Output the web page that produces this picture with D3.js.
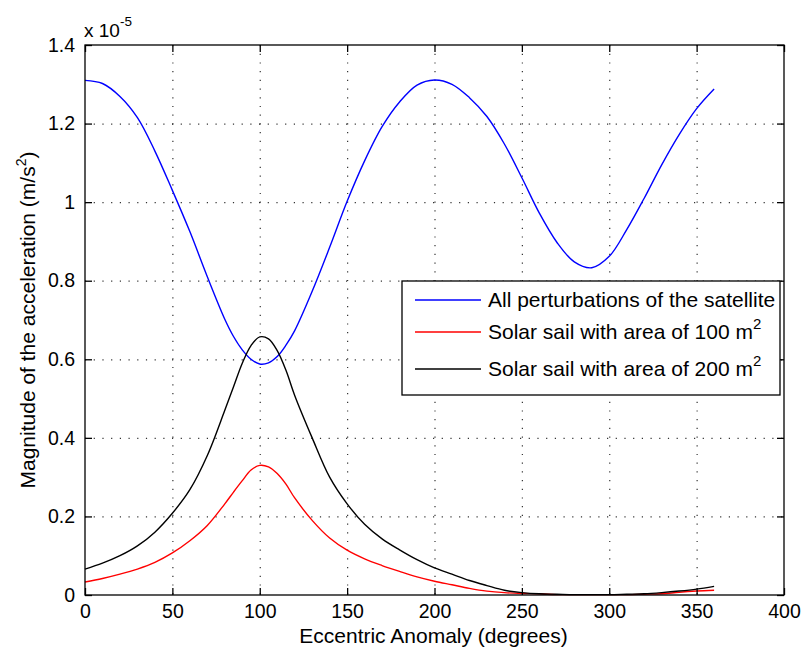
<!DOCTYPE html>
<html>
<head>
<meta charset="utf-8">
<script src="https://cdn.jsdelivr.net/npm/d3@7"></script>
<style>
  html, body { margin: 0; padding: 0; background: #fff; }
  svg { display: block; font-family: "Liberation Sans", Arial, Helvetica, sans-serif; }
</style>
</head>
<body>
<svg id="chart" width="802" height="654"></svg>
<script>
// ---- Data (values in units of 1e-5 m/s^2) ----
const anomaly = [0, 10, 20, 30, 40, 50, 60, 70, 80,
  85, 90, 95, 100, 105, 110, 115, 120,
  130, 140, 150, 160, 170, 180, 190, 200, 210, 220, 230, 240, 250, 260, 270, 280, 290, 300, 310, 320, 330, 340, 350, 360];

const allPerturbations = [1.310, 1.302, 1.269, 1.215, 1.130, 1.030, 0.925, 0.810, 0.702,
  0.658, 0.624, 0.600, 0.588, 0.591, 0.607, 0.636, 0.673,
  0.773, 0.885, 1.002, 1.105, 1.192, 1.255, 1.298, 1.311, 1.300, 1.266, 1.218, 1.148, 1.062, 0.972, 0.898, 0.848, 0.833, 0.862, 0.930, 1.010, 1.095, 1.172, 1.238, 1.288];

const sail100 = [0.033, 0.042, 0.053, 0.066, 0.083, 0.107, 0.138, 0.177, 0.232,
  0.262, 0.291, 0.318, 0.330, 0.326, 0.309, 0.282, 0.247,
  0.190, 0.145, 0.114, 0.092, 0.075, 0.060, 0.046, 0.035, 0.026, 0.017, 0.010, 0.006, 0.004, 0.003, 0.001, 0.001, 0.001, 0.001, 0.001, 0.002, 0.003, 0.007, 0.010, 0.012];

const sail200 = [0.066, 0.081, 0.100, 0.125, 0.160, 0.208, 0.268, 0.355, 0.470,
  0.530, 0.590, 0.635, 0.657, 0.652, 0.622, 0.572, 0.508,
  0.400, 0.300, 0.232, 0.180, 0.143, 0.115, 0.090, 0.069, 0.053, 0.037, 0.024, 0.012, 0.006, 0.003, 0.002, 0.001, 0.001, 0.001, 0.002, 0.003, 0.006, 0.010, 0.015, 0.022];

const xTicks = [0, 50, 100, 150, 200, 250, 300, 350, 400];
const yTicks = [0, 0.2, 0.4, 0.6, 0.8, 1, 1.2, 1.4];

const seriesNames = ["All perturbations of the satellite", "Solar sail with area of 100 m", "Solar sail with area of 200 m"];
const seriesSup = ["", "2", "2"];
const seriesColors = ["#0000ff", "#ff0000", "#000000"];

const xLabel = "Eccentric Anomaly (degrees)";
const yLabel = "Magnitude of the acceleration (m/s";
const exponentLabel = "x 10";
const exponentSup = "-5";

// ---- Layout ----
const svg = d3.select("#chart");
const W = 802, H = 654;
const m = { left: 85, top: 45, right: 18, bottom: 59 };
const iw = W - m.left - m.right, ih = H - m.top - m.bottom;

const x = d3.scaleLinear().domain([0, 400]).range([0, iw]);
const y = d3.scaleLinear().domain([0, 1.4]).range([ih, 0]);

const g = svg.append("g").attr("transform", `translate(${m.left},${m.top})`);

// grid
g.append("g").attr("class", "grid")
  .call(d3.axisBottom(x).tickValues(xTicks.slice(1, -1)).tickSize(ih).tickFormat(""));
g.append("g").attr("class", "grid")
  .call(d3.axisLeft(y).tickValues(yTicks.slice(1, -1)).tickSize(-iw).tickFormat(""));
g.selectAll(".grid .domain").remove();
g.selectAll(".grid line").attr("stroke", "#000").attr("stroke-width", 1.2)
  .attr("stroke-dasharray", "1.2,7.5").attr("stroke-opacity", 0.8);

// lines
const series = [allPerturbations, sail100, sail200];
const line = d3.line().x((d, i) => x(anomaly[i])).y(d => y(d)).curve(d3.curveCatmullRom.alpha(0.5));
series.forEach((s, k) => {
  g.append("path").datum(s)
    .attr("fill", "none").attr("stroke", seriesColors[k]).attr("stroke-width", 1.4)
    .attr("d", line);
});

// axes
const fmtY = d => String(d);
const tickFont = 19.5;
const axB = g.append("g").attr("transform", `translate(0,${ih})`)
  .call(d3.axisBottom(x).tickValues(xTicks).tickSize(-7).tickPadding(9).tickFormat(d3.format("d")));
const axT = g.append("g")
  .call(d3.axisTop(x).tickValues(xTicks).tickSize(-7).tickFormat(""));
const axL = g.append("g")
  .call(d3.axisLeft(y).tickValues(yTicks).tickSize(-7).tickPadding(10).tickFormat(fmtY));
const axR = g.append("g").attr("transform", `translate(${iw},0)`)
  .call(d3.axisRight(y).tickValues(yTicks).tickSize(-7).tickFormat(""));
[axB, axT, axL, axR].forEach(a => {
  a.select(".domain").remove();
  a.selectAll("line").attr("stroke", "#000").attr("stroke-width", 1.3);
  a.selectAll("text").attr("font-size", tickFont).attr("fill", "#000")
    .attr("font-family", "'Liberation Sans', Arial, sans-serif");
});

// box
g.append("rect").attr("x", 0).attr("y", 0).attr("width", iw).attr("height", ih)
  .attr("fill", "none").attr("stroke", "#000").attr("stroke-width", 1.3);

// exponent
const ex = svg.append("text").attr("x", m.left - 1).attr("y", 37).attr("font-size", 19).attr("fill", "#000");
ex.append("tspan").text(exponentLabel);
ex.append("tspan").attr("dy", -11).attr("font-size", 13.5).text(exponentSup);

// axis labels
svg.append("text").attr("x", m.left + iw / 2 - 1).attr("y", 643)
  .attr("text-anchor", "middle").attr("font-size", 21).attr("fill", "#000").text(xLabel);

const yl = svg.append("text").attr("transform", `translate(35,${m.top + ih / 2}) rotate(-90)`)
  .attr("text-anchor", "middle").attr("font-size", 21).attr("fill", "#000");
yl.append("tspan").text(yLabel);
yl.append("tspan").attr("dy", -9).attr("font-size", 14).text("2");
yl.append("tspan").attr("dy", 9).text(")");

// legend
const lg = svg.append("g").attr("transform", "translate(402,281)");
lg.append("rect").attr("width", 378).attr("height", 114).attr("fill", "#fff")
  .attr("stroke", "#000").attr("stroke-width", 1.3);
const rowsY = [19, 51, 88];
seriesNames.forEach((name, k) => {
  lg.append("line").attr("x1", 13).attr("x2", 79).attr("y1", rowsY[k]).attr("y2", rowsY[k])
    .attr("stroke", seriesColors[k]).attr("stroke-width", 1.4);
  const t = lg.append("text").attr("x", 86).attr("y", rowsY[k] + 7).attr("font-size", 21).attr("fill", "#000");
  t.append("tspan").text(name);
  if (seriesSup[k]) t.append("tspan").attr("dy", -10).attr("font-size", 15).text(seriesSup[k]);
});
</script>
</body>
</html>
